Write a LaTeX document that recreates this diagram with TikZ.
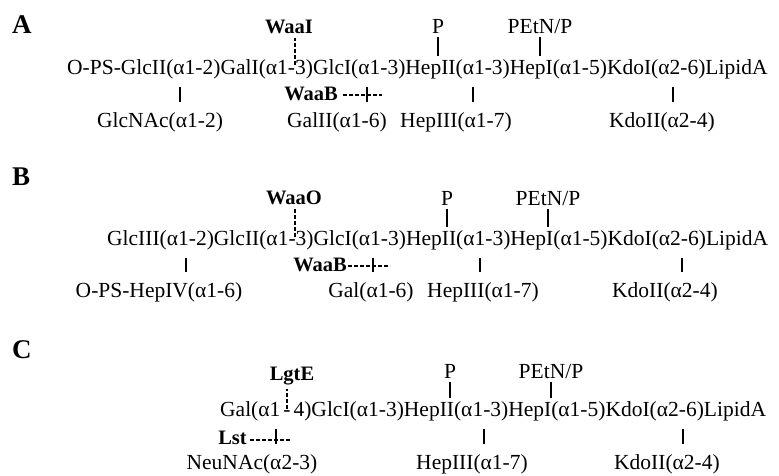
\documentclass[tikz,border=0pt]{standalone}
\usepackage{fontspec}
\setmainfont{Liberation Serif}
\begin{document}
\begin{tikzpicture}[x=1pt,y=-1pt,
    every node/.style={inner sep=0pt, font=\fontsize{21.5}{26}\selectfont},
    chain/.style={anchor=base west},
    sub/.style={anchor=base},
    enz/.style={anchor=base, font=\fontsize{20.5}{25}\selectfont\bfseries},
    panel/.style={anchor=base west, font=\fontsize{27}{32}\selectfont\bfseries},
    bond/.style={line width=1.3pt},
    cut/.style={line width=1.2pt, dash pattern=on 4pt off 2pt}]
    \useasboundingbox (0,0) rectangle (779,475);
    % A
    \node[panel] (labA) at (12,33) {A};
    \node[chain] (mainA) at (67,74) {O-PS-GlcII(α1-2)GalI(α1-3)GlcI(α1-3)HepII(α1-3)HepI(α1-5)KdoI(α2-6)LipidA};
    \node[enz] (waaIA) at (289,33) {WaaI};
    \node[sub] (pA) at (438,33) {P};
    \node[sub] (petnA) at (540,33) {PEtN/P};
    \node[sub] (glcnacA) at (160,127) {GlcNAc(α1-2)};
    \node[sub] (galIIA) at (337,127) {GalII(α1-6)};
    \node[sub] (hepIIIA) at (456,127) {HepIII(α1-7)};
    \node[sub] (kdoIIA) at (662,127) {KdoII(α2-4)};
    \node[enz, anchor=base east] (waaBA) at (338,100) {WaaB};
    \coordinate (lkA1) at (180,87);
    \coordinate (lkA2) at (367,87);
    \coordinate (lkA3) at (473,87);
    \coordinate (lkA4) at (673,87);
    \coordinate (cutA) at (295,65);
    \coordinate (endA) at (382,95);
    \foreach \n in {pA, petnA}
        \draw[bond] ([yshift=-4pt]\n.south) -- ([yshift=3pt]mainA.north -| \n);
    \foreach \c/\n in {lkA1/glcnacA, lkA2/galIIA, lkA3/hepIIIA, lkA4/kdoIIA}
        \draw[bond] (\c) -- ([yshift=10pt]\n.north -| \c);
    \draw[cut] (cutA) -- ([yshift=-4pt]waaIA.south -| cutA);
    \draw[cut] ([xshift=5pt]waaBA.east |- endA) -- (endA);
    % B
    \node[panel] (labB) at (12,185) {B};
    \node[chain] (mainB) at (107,245) {GlcIII(α1-2)GlcII(α1-3)GlcI(α1-3)HepII(α1-3)HepI(α1-5)KdoI(α2-6)LipidA};
    \node[enz] (waaOB) at (294,204) {WaaO};
    \node[sub] (pB) at (447,205) {P};
    \node[sub] (petnB) at (548,205) {PEtN/P};
    \node[sub] (hepIVB) at (159,297) {O-PS-HepIV(α1-6)};
    \node[sub] (galB) at (371,297) {Gal(α1-6)};
    \node[sub] (hepIIIB) at (483,297) {HepIII(α1-7)};
    \node[sub] (kdoIIB) at (665,297) {KdoII(α2-4)};
    \node[enz, anchor=base east] (waaBB) at (347,271) {WaaB};
    \coordinate (lkB1) at (186,258);
    \coordinate (lkB2) at (373,258);
    \coordinate (lkB3) at (480,258);
    \coordinate (lkB4) at (682,258);
    \coordinate (cutB) at (295,237);
    \coordinate (endB) at (390,266);
    \foreach \n in {pB, petnB}
        \draw[bond] ([yshift=-4pt]\n.south) -- ([yshift=3pt]mainB.north -| \n);
    \foreach \c/\n in {lkB1/hepIVB, lkB2/galB, lkB3/hepIIIB, lkB4/kdoIIB}
        \draw[bond] (\c) -- ([yshift=10pt]\n.north -| \c);
    \draw[cut] (cutB) -- ([yshift=-4pt]waaOB.south -| cutB);
    \draw[cut] ([xshift=1pt]waaBB.east |- endB) -- (endB);
    % C
    \node[panel] (labC) at (12,358) {C};
    \node[chain] (mainC) at (220,416) {Gal(α1\hspace{3pt}-\hspace{3pt}4)GlcI(α1-3)HepII(α1-3)HepI(α1-5)KdoI(α2-6)LipidA};
    \node[enz] (lgtEC) at (292,380) {LgtE};
    \node[sub] (pC) at (450,378) {P};
    \node[sub] (petnC) at (551,378) {PEtN/P};
    \node[sub] (neuC) at (252,469) {NeuNAc(α2-3)};
    \node[sub] (hepIIIC) at (472,469) {HepIII(α1-7)};
    \node[sub] (kdoIIC) at (667,469) {KdoII(α2-4)};
    \node[enz, anchor=base east] (lstC) at (247,444) {Lst};
    \coordinate (lkC1) at (276,429);
    \coordinate (lkC2) at (484,429);
    \coordinate (lkC3) at (683,429);
    \coordinate (cutC) at (287,409);
    \coordinate (endC) at (290,440);
    \foreach \n in {pC, petnC}
        \draw[bond] ([yshift=-4pt]\n.south) -- ([yshift=3pt]mainC.north -| \n);
    \foreach \c/\n in {lkC1/neuC, lkC2/hepIIIC, lkC3/kdoIIC}
        \draw[bond] (\c) -- ([yshift=10pt]\n.north -| \c);
    \draw[cut] (cutC) -- ([yshift=-4pt]lgtEC.south -| cutC);
    \draw[cut] ([xshift=3pt]lstC.east |- endC) -- (endC);
\end{tikzpicture}
\end{document}
